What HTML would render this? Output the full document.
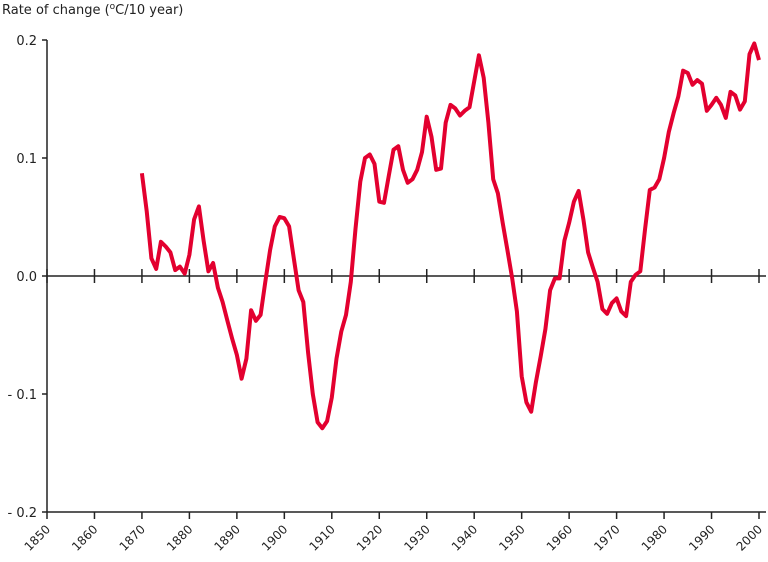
<!DOCTYPE html>
<html><head><meta charset="utf-8"><style>
body{margin:0;background:#fff;}
svg{display:block;font-family:"DejaVu Sans","Liberation Sans",sans-serif;}
</style></head><body>
<svg id="chart" width="768" height="562" viewBox="0 0 768 562" xmlns="http://www.w3.org/2000/svg">
<text x="2" y="14" font-size="13" fill="#222">Rate of change (<tspan dy="-5" font-size="9">o</tspan><tspan dy="5">C/10 year)</tspan></text>
<g id="axes"></g>
<g id="series"></g>
</svg>
<script>
const years = [];
for (let y = 1870; y <= 2000; y++) years.push(y);
const values = [0.087,0.055,0.015,0.006,0.029,0.025,0.02,0.005,0.008,0.002,0.018,0.048,0.059,0.03,0.004,0.011,-0.01,-0.022,-0.038,-0.053,-0.067,-0.087,-0.07,-0.029,-0.038,-0.033,-0.005,0.022,0.042,0.05,0.049,0.042,0.015,-0.012,-0.022,-0.065,-0.1,-0.124,-0.129,-0.123,-0.103,-0.07,-0.047,-0.033,-0.005,0.04,0.08,0.1,0.103,0.095,0.063,0.062,0.085,0.107,0.11,0.09,0.079,0.082,0.09,0.105,0.135,0.118,0.09,0.091,0.13,0.145,0.142,0.136,0.14,0.143,0.165,0.187,0.168,0.13,0.082,0.07,0.045,0.022,-0.002,-0.03,-0.085,-0.107,-0.115,-0.09,-0.068,-0.045,-0.012,-0.002,-0.002,0.03,0.045,0.063,0.072,0.048,0.02,0.007,-0.005,-0.028,-0.032,-0.023,-0.019,-0.03,-0.034,-0.005,0.001,0.004,0.04,0.073,0.075,0.082,0.1,0.122,0.138,0.152,0.174,0.172,0.162,0.166,0.163,0.14,0.145,0.151,0.145,0.134,0.156,0.153,0.141,0.148,0.188,0.197,0.183];
const xTicks = [1850,1860,1870,1880,1890,1900,1910,1920,1930,1940,1950,1960,1970,1980,1990,2000];
const yTicks = [0.2,0.1,0.0,-0.1,-0.2];
const yTickLabels = ["0.2","0.1","0.0","- 0.1","- 0.2"];

const NS = "http://www.w3.org/2000/svg";
const X0 = 47, X1 = 759, Y0 = 276, YPX = 1180;
const xs = yr => X0 + (yr - 1850) * (X1 - X0) / 150;
const ys = v => Y0 - v * YPX;
function mk(tag, attrs, parent){const e=document.createElementNS(NS,tag);for(const k in attrs)e.setAttribute(k,attrs[k]);parent.appendChild(e);return e;}
const axes = document.getElementById('axes');
let l = mk('line',{x1:X0,y1:ys(0.2),x2:X0,y2:ys(-0.2),stroke:'#222','stroke-width':1.5},axes);


l = mk('line',{x1:X0,y1:ys(0),x2:766,y2:ys(0),stroke:'#222','stroke-width':1.5},axes);


l = mk('line',{x1:X0,y1:ys(-0.2),x2:766,y2:ys(-0.2),stroke:'#222','stroke-width':1.5},axes);


yTicks.forEach((v,i)=>{
  const t = mk('line',{x1:X0-5,y1:ys(v),x2:X0,y2:ys(v),stroke:'#222','stroke-width':1.5},axes);
  
  
  const tx = mk('text',{x:X0-10,y:ys(v)+5,'text-anchor':'end','font-size':13,fill:'#222'},axes);
  tx.textContent = yTickLabels[i];
  
  
});
xTicks.forEach(yr=>{
  const x = xs(yr);
  const t1 = mk('line',{x1:x,y1:ys(0)-7,x2:x,y2:ys(0)+7,stroke:'#222','stroke-width':1.5},axes);
  
  
  const t2 = mk('line',{x1:x,y1:ys(-0.2),x2:x,y2:ys(-0.2)+7,stroke:'#222','stroke-width':1.5},axes);
  
  
  const tx = mk('text',{x:x+4,y:ys(-0.2)+18,'text-anchor':'end','font-size':12,fill:'#222',transform:`rotate(-45 ${x+4} ${ys(-0.2)+18})`},axes);
  tx.textContent = yr;
  
  
});
const pts = years.map((yr,i)=>xs(yr).toFixed(1)+','+ys(values[i]).toFixed(1)).join(' ');
const p = mk('polyline',{points:pts,fill:'none',stroke:'#e3002f','stroke-width':4,'stroke-linejoin':'round'},document.getElementById('series'));


</script>
</body></html>
